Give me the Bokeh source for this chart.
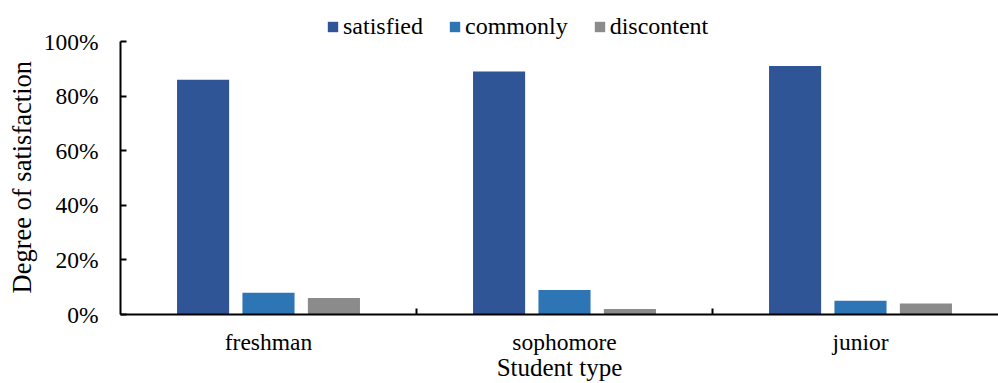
from bokeh.plotting import figure
from bokeh.models import (ColumnDataSource, Range1d, FixedTicker, NumeralTickFormatter,
                          Legend, LegendItem, Title)
from bokeh.transform import dodge
from bokeh.embed import file_html
from bokeh.resources import INLINE

categories = ["freshman", "sophomore", "junior"]
series = ["satisfied", "commonly", "discontent"]
satisfied = [0.86, 0.89, 0.91]
commonly = [0.08, 0.09, 0.05]
discontent = [0.06, 0.02, 0.04]
colors = ["#2F5597", "#2E75B6", "#8B8B8B"]
y_ticks = [0, 0.2, 0.4, 0.6, 0.8, 1.0]

FONT = "Liberation Serif"

centers = [i + 0.5 for i in range(len(categories))]
src = ColumnDataSource(dict(x=centers, satisfied=satisfied, commonly=commonly,
                            discontent=discontent))

p = figure(frame_width=878, frame_height=310, output_backend="svg", toolbar_location=None,
           x_range=Range1d(0, 878 / 296), y_range=Range1d(0, 310 / 273),
           min_border_left=112, min_border_right=0, min_border_top=4,
           min_border_bottom=10)
p.outline_line_color = None
p.xgrid.visible = False
p.ygrid.visible = False

offsets = [-0.221, 0.0, 0.221]
renderers = []
for s, off, c in zip(series, offsets, colors):
    r = p.vbar(x=dodge("x", off), top=s, width=0.176, source=src,
               fill_color=c, line_color=None)
    renderers.append(r)

# x axis
xa = p.xaxis[0]
xa.ticker = FixedTicker(ticks=centers, minor_ticks=[1, 2])
xa.major_label_overrides = {c: cat for c, cat in zip(centers, categories)}
xa.major_tick_line_color = None
xa.major_tick_in = 0
xa.major_tick_out = 0
xa.minor_tick_in = 6
xa.minor_tick_out = 0
xa.minor_tick_line_width = 2
xa.minor_tick_line_color = "black"
xa.axis_line_width = 2
xa.axis_line_color = "black"
xa.major_label_text_font = FONT
xa.major_label_text_font_size = "23.5px"
xa.major_label_text_color = "black"
xa.major_label_standoff = 14
xa.axis_label = "Student type"
xa.axis_label_text_font = FONT
xa.axis_label_text_font_size = "25px"
xa.axis_label_text_font_style = "normal"
xa.axis_label_text_color = "black"
xa.axis_label_standoff = -4

# y axis
ya = p.yaxis[0]
ya.ticker = FixedTicker(ticks=y_ticks)
ya.bounds = (0, 1)
ya.formatter = NumeralTickFormatter(format="0%")
ya.major_tick_in = 6
ya.major_tick_out = 0
ya.major_tick_line_width = 2
ya.major_tick_line_color = "black"
ya.minor_tick_line_color = None
ya.axis_line_width = 2
ya.axis_line_color = "black"
ya.major_label_text_font = FONT
ya.major_label_text_font_size = "23.5px"
ya.major_label_text_color = "black"
ya.major_label_standoff = 22

ytitle = Title(text="Degree of satisfaction", align="left", offset=21,
               vertical_align="bottom", standoff=8,
               text_font=FONT, text_font_size="26.5px", text_font_style="normal",
               text_color="black")
p.add_layout(ytitle, "left")

legend = Legend(items=[LegendItem(label=s, renderers=[r]) for s, r in zip(series, renderers)],
                orientation="horizontal", location=(206, 274),
                glyph_width=13, glyph_height=13, label_standoff=4, spacing=25,
                padding=0, margin=0, border_line_color=None,
                background_fill_alpha=0)
legend.label_text_font = FONT
legend.label_text_font_size = "24px"
legend.label_text_font_style = "normal"
legend.label_text_color = "black"
p.add_layout(legend, "center")

open("out.html", "w").write(file_html(p, INLINE))
